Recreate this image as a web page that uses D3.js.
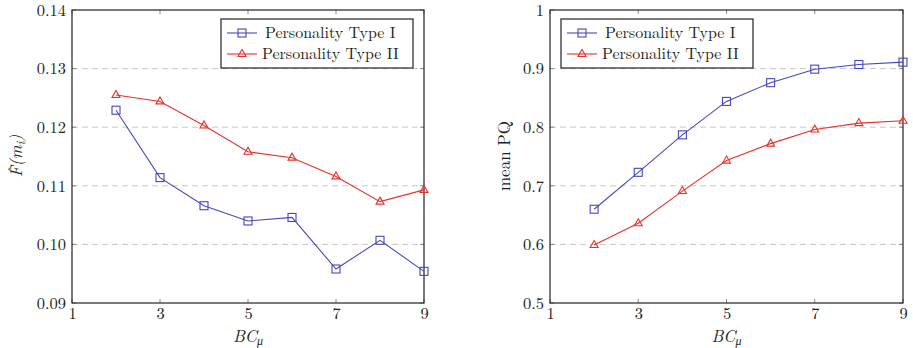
<!DOCTYPE html>
<html>
<head>
<meta charset="utf-8">
<script src="https://cdn.jsdelivr.net/npm/d3@7"></script>
<style>
  body { margin: 0; background: #fff; }
</style>
</head>
<body>
<svg id="chart" width="913" height="348"></svg>
<script>
// data
var bc = [2, 3, 4, 5, 6, 7, 8, 9];
var xTicks = [1, 3, 5, 7, 9];
var seriesNames = ["Personality Type I", "Personality Type II"];

var fType1 = [0.1229, 0.1114, 0.1066, 0.1040, 0.1046, 0.0958, 0.1007, 0.0954];
var fType2 = [0.1255, 0.1244, 0.1203, 0.1158, 0.1148, 0.1116, 0.1073, 0.1093];
var fTicks = [0.09, 0.10, 0.11, 0.12, 0.13, 0.14];

var pqType1 = [0.660, 0.723, 0.787, 0.844, 0.876, 0.899, 0.907, 0.911];
var pqType2 = [0.599, 0.636, 0.691, 0.743, 0.772, 0.796, 0.807, 0.811];
var pqTicks = [0.5, 0.6, 0.7, 0.8, 0.9, 1.0];

var blue = "#4646c4", red = "#e8302c";
var FONT = "'Latin Modern Roman', 'Liberation Serif', 'Tinos', serif";

var svg = d3.select("#chart");

function draw_panel(opts) {
  var left = opts.left, right = opts.right, top = 10, bottom = 303;

  var x = d3.scaleLinear().domain([1, 9]).range([left, right]);
  var y = d3.scaleLinear().domain(opts.yDomain).range([bottom, top]);

  var g = svg.append("g");

  // dashed horizontal grid
  g.selectAll(".grid")
      .data(opts.yTicks.slice(1, -1))
    .enter().append("line")
      .attr("x1", left).attr("x2", right)
      .attr("y1", function(d) { return y(d); })
      .attr("y2", function(d) { return y(d); })
      .attr("stroke", "#c8c8c8")
      .attr("stroke-width", 1)
      .attr("stroke-dasharray", "6,4");

  // tick marks inside the box, on all sides
  var tl = 4;
  xTicks.forEach(function(t) {
    g.append("line").attr("x1", x(t)).attr("x2", x(t)).attr("y1", bottom).attr("y2", bottom - tl)
      .attr("stroke", "#888");
    g.append("line").attr("x1", x(t)).attr("x2", x(t)).attr("y1", top).attr("y2", top + tl)
      .attr("stroke", "#888");
  });
  opts.yTicks.forEach(function(t) {
    g.append("line").attr("x1", left).attr("x2", left + tl).attr("y1", y(t)).attr("y2", y(t))
      .attr("stroke", "#888");
    g.append("line").attr("x1", right).attr("x2", right - tl).attr("y1", y(t)).attr("y2", y(t))
      .attr("stroke", "#888");
  });

  // axes (labels only, box drawn separately)
  var xAxis = g.append("g")
      .attr("transform", "translate(0," + bottom + ")")
      .call(d3.axisBottom(x).tickValues(xTicks).tickSize(0).tickPadding(4).tickFormat(d3.format("d")));
  var yAxis = g.append("g")
      .attr("transform", "translate(" + left + ",0)")
      .call(d3.axisLeft(y).tickValues(opts.yTicks).tickSize(0).tickPadding(6).tickFormat(opts.fmt));
  [xAxis, yAxis].forEach(function(a) {
    a.select(".domain").remove();
    a.selectAll("text").style("font-size", "16.5px").style("font-family", FONT).attr("fill", "#222");
  });

  // frame
  g.append("rect")
      .attr("x", left).attr("y", top)
      .attr("width", right - left).attr("height", bottom - top)
      .attr("fill", "none").attr("stroke", "#222").attr("stroke-width", 1.2);

  var line = d3.line()
      .x(function(d) { return x(d[0]); })
      .y(function(d) { return y(d[1]); });

  var series = [
    { name: seriesNames[0], vals: opts.s1, color: blue, mark: "square" },
    { name: seriesNames[1], vals: opts.s2, color: red, mark: "triangle" }
  ];

  function marker(sel, kind, color) {
    if (kind === "square") {
      sel.append("rect").attr("x", -4).attr("y", -4).attr("width", 8).attr("height", 8)
        .attr("fill", "none").attr("stroke", color).attr("stroke-width", 1.1);
    } else {
      sel.append("path").attr("d", "M0,-4.5L4,2.5L-4,2.5Z")
        .attr("fill", "none").attr("stroke", color).attr("stroke-width", 1.1);
    }
  }

  series.forEach(function(s) {
    var pts = bc.map(function(b, i) { return [b, s.vals[i]]; });
    g.append("path")
        .datum(pts)
        .attr("fill", "none")
        .attr("stroke", s.color)
        .attr("stroke-width", 1.1)
        .attr("d", line);
    g.selectAll(null)
        .data(pts)
      .enter().append("g")
        .attr("transform", function(d) { return "translate(" + x(d[0]) + "," + y(d[1]) + ")"; })
        .each(function() { marker(d3.select(this), s.mark, s.color); });
  });

  // legend
  var lg = g.append("g").attr("transform", "translate(" + opts.legendX + ",19)");
  lg.append("rect").attr("width", 192).attr("height", 49)
    .attr("fill", "#fff").attr("stroke", "#222").attr("stroke-width", 1.2);
  series.forEach(function(s, i) {
    var ly = 14 + i * 21;
    lg.append("line").attr("x1", 6).attr("x2", 36).attr("y1", ly).attr("y2", ly)
      .attr("stroke", s.color).attr("stroke-width", 1.1);
    var m = lg.append("g").attr("transform", "translate(21," + ly + ")");
    marker(m, s.mark, s.color);
    lg.append("text").attr("x", i === 0 ? 44 : 41).attr("y", ly + 5)
      .style("font-family", FONT).style("font-size", "16px").attr("fill", "#222")
      .text(s.name);
  });

  // axis titles
  g.append("text")
      .attr("x", (left + right) / 2).attr("y", 342)
      .attr("text-anchor", "middle").attr("fill", "#222")
      .style("font-family", FONT).style("font-size", "17px").style("font-style", "italic")
      .html('BC<tspan style="font-size:12px" dy="3">μ</tspan>');

  var yg = g.append("g")
      .attr("transform", "translate(" + opts.yLabelX + ",156) rotate(-90)");
  var yl = yg.append("text")
      .attr("text-anchor", "middle").attr("fill", "#222")
      .style("font-family", FONT).style("font-size", "17px");
  opts.yLabel(yl, yg);
}

draw_panel({
  left: 72, right: 424,
  yDomain: [0.09, 0.14], yTicks: fTicks, fmt: d3.format(".2f"),
  s1: fType1, s2: fType2,
  legendX: 221, yLabelX: 22,
  yLabel: function(t, grp) {
    t.style("font-style", "italic")
     .html('F(m<tspan style="font-size:12px" dy="3">i</tspan><tspan dy="-3">)</tspan>');
    // hat over the F
    var ext = t.node().getExtentOfChar(0);
    grp.append("text")
      .attr("x", ext.x + ext.width / 2 + 2.5).attr("y", -3)
      .attr("text-anchor", "middle").attr("fill", "#222")
      .style("font-family", FONT).style("font-size", "15px")
      .text("ˆ");
  }
});

draw_panel({
  left: 550, right: 903,
  yDomain: [0.5, 1.0], yTicks: pqTicks, fmt: function(d) { return d === 1 ? "1" : d3.format(".1f")(d); },
  s1: pqType1, s2: pqType2,
  legendX: 561, yLabelX: 510,
  yLabel: function(t) { t.text("mean PQ"); }
});
</script>
</body>
</html>
